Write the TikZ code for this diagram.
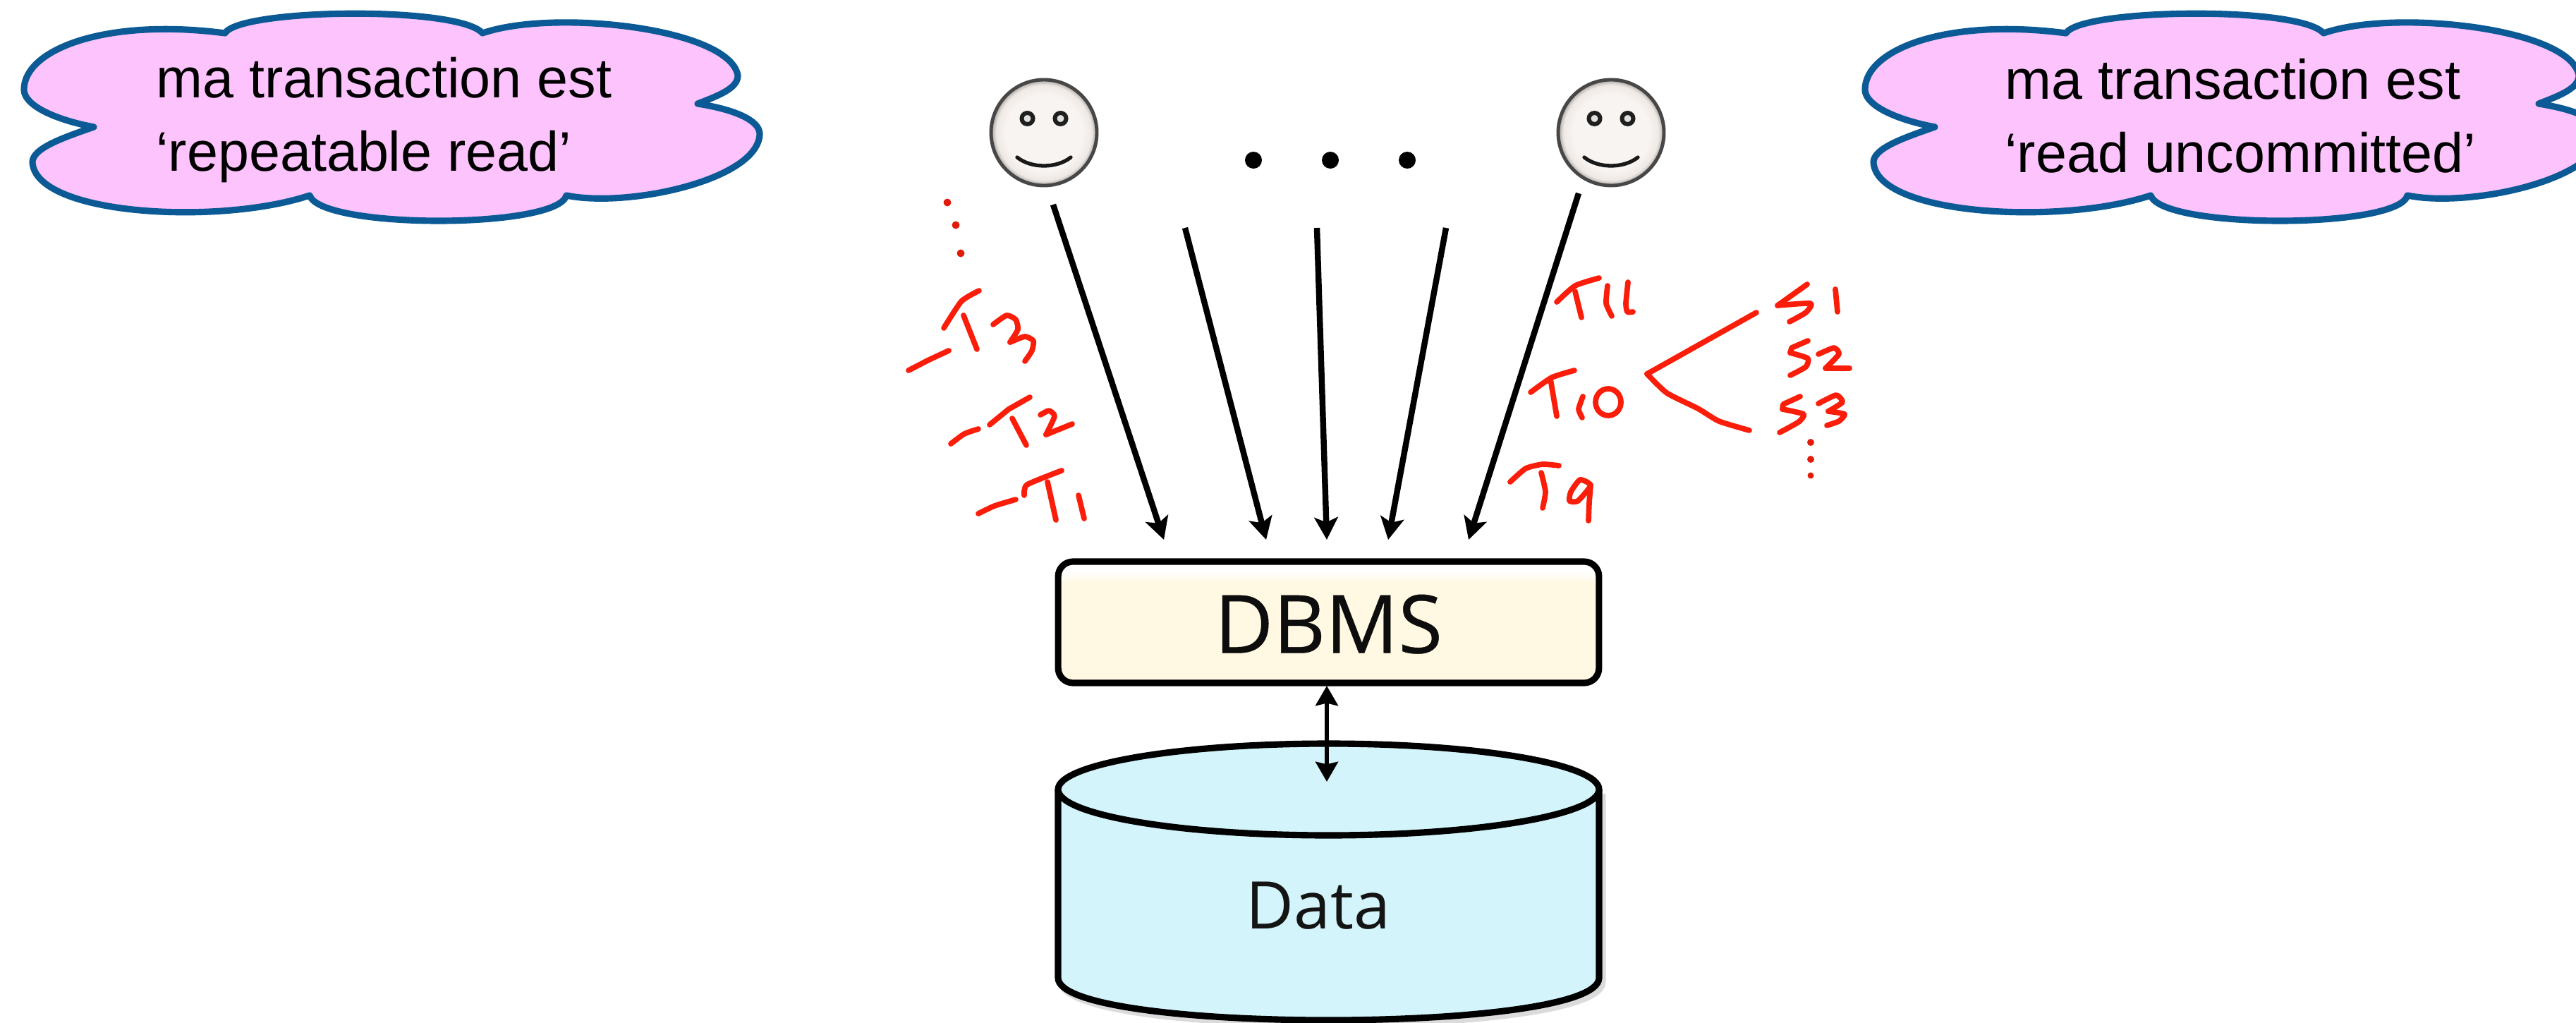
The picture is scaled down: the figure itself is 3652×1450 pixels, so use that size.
\documentclass[tikz,border=0pt]{standalone}
\usepackage{fontspec}
\setmainfont{Liberation Sans}
\newfontfamily\boxfont{Open Sans}
\usetikzlibrary{arrows.meta}
\definecolor{cloudfill}{HTML}{FDC3FD}
\definecolor{cloudline}{HTML}{0B5A96}
\definecolor{inkred}{HTML}{FA1E0A}
\definecolor{datafill}{HTML}{D2F4FA}
\definecolor{creamA}{HTML}{FFF8E2}
\definecolor{faceA}{HTML}{F8F4F1}
\definecolor{faceB}{HTML}{EFE9E5}
\definecolor{faceC}{HTML}{A8A29E}
\pgfdeclareradialshading{faceshade}{\pgfpoint{0bp}{0bp}}{color(0bp)=(faceA); color(18bp)=(faceA); color(22.5bp)=(faceB); color(25bp)=(faceC); color(50bp)=(faceC)}
\pgfdeclareverticalshading{dbmsshade}{100bp}{color(0bp)=(creamA); color(25bp)=(creamA); color(66bp)=(creamA); color(71bp)=(white); color(100bp)=(white)}
\tikzset{
  x=0.02cm, y=-0.02cm,
  every plot/.style={tension=0.35},
  cloudbody/.style={fill=cloudfill, draw=cloudline, line width=5.2pt, line join=round},
  cloudtext/.style={anchor=north west, inner sep=0pt, align=left, font=\fontsize{45}{59.2}\selectfont},
  arrowline/.style={draw=black, line width=4.8pt, -{Stealth[length=18pt,width=19pt,inset=4pt]}},
  ink/.style={draw=inkred, line width=4.4pt, line cap=round, line join=round},
  inkdot/.style={fill=inkred!90!black},
  facebody/.style={shading=faceshade, draw=black!72, line width=2.8pt},
  eye/.style={fill=black!12, draw=black!88, line width=3.4pt},
  smile/.style={draw=black!90, line width=3pt, line cap=round},
  blackdot/.style={fill=black},
  boxline/.style={draw=black, line width=5.2pt},
  softshadow/.style={draw=black, opacity=0.14, line width=5.2pt},
  cloudshape/.pic={
    \path[cloudbody] (319,47)
      .. controls (340,12) and (650,8) .. (684,47)
      .. controls (785,12) and (1035,40) .. (1046,107)
      .. controls (1046,125) and (1020,135) .. (989,147)
      .. controls (1040,155) and (1077,170) .. (1077,190)
      .. controls (1075,255) and (890,295) .. (803,277)
      .. controls (790,325) and (455,325) .. (439,277)
      .. controls (310,320) and (50,305) .. (46,230)
      .. controls (46,210) and (90,195) .. (133,180)
      .. controls (80,170) and (34,150) .. (34,127)
      .. controls (34,70) and (150,25) .. (319,47) -- cycle;
  },
  facepic/.pic={
    \path[facebody] (0,0) ellipse [x radius=75, y radius=75];
    \path[eye] (-23.5,-20) circle [radius=8];
    \path[eye] (23.5,-20) circle [radius=8];
    \path[smile] (-38,35) .. controls (-18,51) and (18,51) .. (38,35);
  }
}
\begin{document}
\begin{tikzpicture}
\clip (0,0) rectangle (3652,1450);
\fill[white] (0,0) rectangle (3652,1450);

% clouds
\pic at (0,0) {cloudshape};
\node[cloudtext] (cloudL) at (221,81) {ma transaction est\\‘repeatable read’};
\pic at (2610,0) {cloudshape};
\node[cloudtext] (cloudR) at (2842,83) {ma transaction est\\‘read uncommitted’};

% faces and dots
\pic at (1480,188) {facepic};
\pic at (2284,188) {facepic};
\fill[blackdot] (1777,227) circle [radius=12];
\fill[blackdot] (1886,227) circle [radius=12];
\fill[blackdot] (1995,227) circle [radius=12];

% arrow end points
\coordinate (a1s) at (1493,290); \coordinate (a1e) at (1650,765);
\coordinate (a2s) at (1680,323); \coordinate (a2e) at (1795,765);
\coordinate (a3s) at (1867,323); \coordinate (a3e) at (1881,765);
\coordinate (a4s) at (2050,323); \coordinate (a4e) at (1968,765);
\coordinate (a5s) at (2238,274); \coordinate (a5e) at (2082,765);
\draw[arrowline] (a1s) -- (a1e);
\draw[arrowline] (a2s) -- (a2e);
\draw[arrowline] (a3s) -- (a3e);
\draw[arrowline] (a4s) -- (a4e);
\draw[arrowline] (a5s) -- (a5e);

% cylinder
\path[softshadow] (2272,1125) -- (2272,1392) .. controls (2272,1472) and (1505,1472) .. (1505,1392);
\path[fill=datafill, boxline] (1500,1119) -- (1500,1386) .. controls (1500,1466) and (2267,1466) .. (2267,1386) -- (2267,1119);
\path[fill=datafill, boxline] (1883.5,1119) ellipse [x radius=383.5, y radius=65];
\node[inner sep=0pt, font=\boxfont\fontsize{53}{60}\selectfont, text=black!92] (data) at (1869,1284) {Data};

% DBMS
\node[draw=black, line width=5.2pt, rounded corners=12pt, shading=dbmsshade, minimum width=436.4pt, minimum height=97.9pt, inner sep=0pt, text height=50.1pt, font=\boxfont\fontsize{65}{70}\selectfont\addfontfeature{FakeBold=0.4}, text=black!95] (dbms) at (1883.5,882) {DBMS};

% double arrow
\coordinate (da) at (1881,1108);
\coordinate (db) at (1881,972);
\draw[line width=3.4pt, {Stealth[length=16pt,width=18pt,inset=2pt]}-{Stealth[length=16pt,width=18pt,inset=2pt]}] (db) -- (da);

% red handwriting, left
\fill[inkdot] (1343,287) circle [radius=5.5];
\fill[inkdot] (1355,319) circle [radius=5.5];
\fill[inkdot] (1362,359) circle [radius=5.5];
\draw[ink] (1288,525) -- (1317,510) -- (1345,497);
\draw[ink] plot[smooth] coordinates {(1338,465) (1363,427) (1388,412)};
\draw[ink] (1366,447) -- (1385,495);
\draw[ink] plot[smooth] coordinates {(1408,460) (1427,447) (1440,453) (1443,467) (1432,485)};
\draw[ink] plot[smooth] coordinates {(1432,485) (1453,477) (1465,483) (1463,497) (1453,512)};
\draw[ink] plot[smooth] coordinates {(1348,629) (1367,615) (1387,608)};
\draw[ink] (1403,602) -- (1430,580) -- (1460,563);
\draw[ink] (1435,593) -- (1455,631);
\draw[ink] plot[smooth] coordinates {(1475,588) (1487,582) (1495,590) (1483,616)};
\draw[ink] (1483,616) -- (1520,601);
\draw[ink] plot[smooth] coordinates {(1387,728) (1410,717) (1440,708)};
\draw[ink] plot[smooth] coordinates {(1452,702) (1456,687) (1505,667)};
\draw[ink] (1485,683) -- (1497,737);
\draw[ink] (1529,702) -- (1537,735);

% red handwriting, right
\draw[ink] plot[smooth] coordinates {(2207,428) (2233,405) (2267,394)};
\draw[ink] (2233,413) -- (2242,450);
\draw[ink] plot[smooth] coordinates {(2279,405) (2277,430) (2285,448)};
\draw[ink] plot[smooth] coordinates {(2308,400) (2305,430) (2307,442) (2315,442)};
\draw[ink] plot[smooth] coordinates {(2170,556) (2200,535) (2232,525)};
\draw[ink] (2198,537) -- (2207,590);
\draw[ink] plot[smooth] coordinates {(2244,562) (2238,580) (2243,592)};
\draw[ink] (2280,570) ellipse [x radius=18, y radius=19];
\draw[ink] (2490,443) -- (2335,530);
\draw[ink] plot[smooth] coordinates {(2335,530) (2363,557) (2407,579) (2437,597) (2480,610)};
\draw[ink] (2562,403) -- (2520,433);
\draw[ink] plot[smooth] coordinates {(2520,433) (2567,430) (2560,443) (2537,456)};
\draw[ink] (2602,410) -- (2605,442);
\draw[ink] (2563,483) -- (2540,493) -- (2538,500);
\draw[ink] plot[smooth] coordinates {(2538,500) (2563,508) (2560,520) (2538,532)};
\draw[ink] plot[smooth] coordinates {(2578,502) (2600,493) (2607,502) (2588,522)};
\draw[ink] (2588,522) -- (2622,522);
\draw[ink] (2552,562) -- (2528,573) -- (2527,580);
\draw[ink] plot[smooth] coordinates {(2527,580) (2557,587) (2550,598) (2523,613)};
\draw[ink] plot[smooth] coordinates {(2578,572) (2603,560) (2612,570) (2592,583)};
\draw[ink] plot[smooth] coordinates {(2592,583) (2615,587) (2607,597) (2590,603)};
\fill[inkdot] (2567,627) circle [radius=5];
\fill[inkdot] (2567,651) circle [radius=5];
\fill[inkdot] (2567,674) circle [radius=4.5];
\draw[ink] plot[smooth] coordinates {(2141,683) (2163,664) (2187,658) (2210,660)};
\draw[ink] plot[smooth] coordinates {(2185,670) (2191,697) (2187,720)};
\draw[ink] plot[smooth cycle] coordinates {(2255,688) (2240,680) (2227,697) (2225,710) (2237,710)};
\draw[ink] plot[smooth] coordinates {(2255,688) (2253,713) (2252,738)};
\end{tikzpicture}
\end{document}
